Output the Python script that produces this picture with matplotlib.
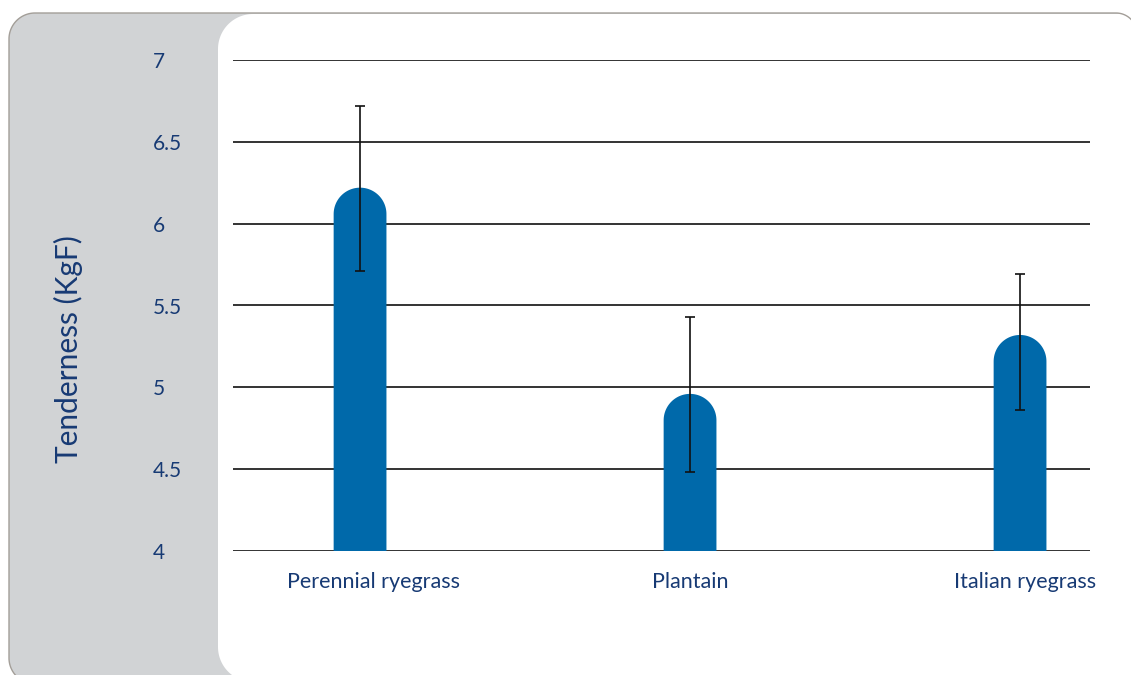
import matplotlib
matplotlib.use("Agg")
import matplotlib.pyplot as plt
from matplotlib.patches import Polygon
from matplotlib.lines import Line2D
from matplotlib.transforms import ScaledTranslation
import numpy as np

# ---- data ----
categories = ["Perennial ryegrass", "Plantain", "Italian ryegrass"]
tenderness = [6.22, 4.96, 5.32]
err_low = [0.51, 0.48, 0.46]
err_high = [0.50, 0.47, 0.37]
y_ticks = [4, 4.5, 5, 5.5, 6, 6.5, 7]
y_tick_labels = ["4", "4.5", "5", "5.5", "6", "6.5", "7"]
y_label = "Tenderness (KgF)"

# ---- style ----
TEXT = "#173a74"
BAR = "#0069aa"
plt.rcParams['font.family'] = ['Lato', 'DejaVu Sans']

W, H = 1131, 675
fig = plt.figure(figsize=(W / 100, H / 100), dpi=100)
fig.patch.set_facecolor("white")


def arc(cx, cy, r, a0, a1, n=40):
    # pixel coords, y pointing down; angles in degrees measured with y down
    t = np.radians(np.linspace(a0, a1, n))
    return np.column_stack([cx + r * np.cos(t), cy + r * np.sin(t)])


def to_in(pts):
    pts = np.asarray(pts, float)
    return np.column_stack([pts[:, 0] / 100, (H - pts[:, 1]) / 100])


# outer rounded panel outline (left, top-left, top, top-right)
L, T, R_, B = 9, 13, 1137, 684
r1, r2 = 26, 21
outline = np.vstack([
    [[R_, 720]],
    arc(R_ - r2, T + r2, r2, 0, -90),
    arc(L + r1, T + r1, r1, -90, -180),
    arc(L + r1, B - r1, r1, 180, 90),
    [[R_, B]],
])
fig.patches.append(Polygon(to_in(outline), closed=True, transform=fig.dpi_scale_trans,
                           facecolor="#d1d3d5", edgecolor="none", zorder=0))

# white plotting panel
wl, wt, wb, rw = 218, 14, 682, 35
white = np.vstack([
    [[1200, wt]],
    arc(wl + rw, wt + rw, rw, -90, -180),
    arc(wl + rw, wb - rw, rw, 180, 90),
    [[1200, wb]],
])
fig.patches.append(Polygon(to_in(white), closed=True, transform=fig.dpi_scale_trans,
                           facecolor="white", edgecolor="none", zorder=1))

outline_line = np.vstack([
    [[R_, 720]],
    arc(R_ - r2, T + r2, r2, 0, -90),
    arc(L + r1, T + r1, r1, -90, -180),
    arc(L + r1, B - r1, r1, 180, 90),
])
oi = to_in(outline_line)
fig.lines.append(Line2D(oi[:, 0], oi[:, 1], transform=fig.dpi_scale_trans,
                        color="#a39e98", lw=1.0, zorder=2))

ax = fig.add_axes([233 / W, (H - 551) / H, (1090 - 233) / W, (551 - 60) / H])
ax.set_facecolor("none")
ax.set_zorder(3)
x = np.arange(len(categories))
ax.set_xlim(-0.385, 2.212)
ax.set_ylim(4, 7)

for s in ax.spines.values():
    s.set_visible(False)

for t in y_ticks:
    ax.axhline(t, color="#111111", lw=1.2, zorder=1)

bar_w = 0.16
ax_bbox = ax.get_position()
px_per_x = ax_bbox.width * W / (ax.get_xlim()[1] - ax.get_xlim()[0])
px_per_y = ax_bbox.height * H / (ax.get_ylim()[1] - ax.get_ylim()[0])

base = 4
bars = ax.bar(x, [v - base for v in tenderness], bottom=base, width=bar_w,
              color=BAR, zorder=2, linewidth=0)
ext = 0.4  # extend below the axis floor (clipped)
theta = np.linspace(0, np.pi, 60)
for rect in bars:
    rect.set_visible(False)
    x0, y0 = rect.get_x(), rect.get_y()
    w, h = rect.get_width(), rect.get_height()
    top = y0 + h
    rx = w / 2
    ry = rx * px_per_x / px_per_y
    cx = x0 + rx
    cap = np.column_stack([cx + rx * np.cos(theta), (top - ry) + ry * np.sin(theta)])
    verts = np.vstack([[[x0 + w, y0 - ext]], cap, [[x0, y0 - ext]]])
    ax.add_patch(Polygon(verts, closed=True, facecolor=BAR, edgecolor="none",
                         zorder=2, clip_on=True))

ax.errorbar(x, tenderness, yerr=[err_low, err_high], fmt="none", ecolor="#111111",
            elinewidth=1.2, capsize=3.5, capthick=1.2, zorder=4)

ax.set_yticks(y_ticks)
ax.set_yticklabels(y_tick_labels)
ax.tick_params(axis="y", length=0, pad=57.6, labelsize=15, labelcolor=TEXT)
for lab in ax.get_yticklabels():
    lab.set_horizontalalignment("left")

ax.set_xticks(x)
ax.set_xticklabels(categories)
ax.tick_params(axis="x", length=0, pad=15, labelsize=15.5, labelcolor=TEXT)
for lab, dx in zip(ax.get_xticklabels(), [13, 0, 5]):
    lab.set_transform(lab.get_transform() + ScaledTranslation(dx / 100, 0, fig.dpi_scale_trans))

fig.text(68 / W, 1 - 349 / H, y_label, rotation=90, ha="center", va="center",
         fontsize=21.5, color=TEXT)

fig.savefig("out.png", dpi=100)
